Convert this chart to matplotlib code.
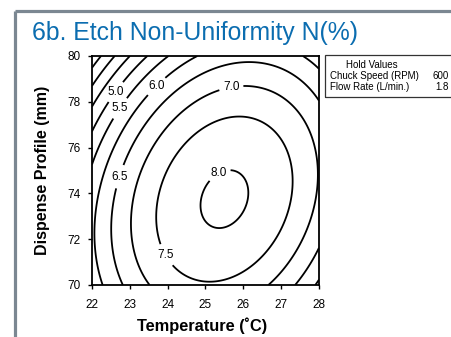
import numpy as np
import matplotlib
matplotlib.use("Agg")
import matplotlib.pyplot as plt
from matplotlib.patches import Rectangle

plt.rcParams['font.family'] = ['Liberation Sans', 'DejaVu Sans']

# fitted response surface for N(%) with chuck speed / flow rate held
temp_center = 25.5       # deg C
profile_center = 73.75   # mm
n_peak = 8.07
temp_curv = 0.184
profile_curv = 0.046
temp_profile_inter = 0.04

plain_levels = [3.5, 4.0, 4.5]
labeled_levels = [5.0, 5.5, 6.0, 6.5, 7.0, 7.5, 8.0]

temp_ticks = [22, 23, 24, 25, 26, 27, 28]
profile_ticks = [70, 72, 74, 76, 78, 80]

hold_names = ['Chuck Speed (RPM)', 'Flow Rate (L/min.)']
hold_values = ['600', '1.8']

# where the level labels sit (temperature, profile)
label_spots = [(22.65, 78.4), (22.8, 77.65), (23.75, 78.6), (22.6, 74.8),
               (25.7, 78.45), (24.0, 71.35), (25.4, 74.75)]

t = np.linspace(22, 28, 301)
p = np.linspace(70, 80, 301)
T, P = np.meshgrid(t, p)
dT = T - temp_center
dP = P - profile_center
N = n_peak - temp_curv * dT**2 - profile_curv * dP**2 + temp_profile_inter * dT * dP

fig = plt.figure(figsize=(4.52, 3.37), dpi=100)

# grey frame around the panel
fig.add_artist(plt.Line2D([15/452, 15/452], [0, 1 - 11/337], transform=fig.transFigure,
                          color='#7b8792', lw=2.3, solid_capstyle='butt'))
fig.add_artist(plt.Line2D([15/452, 1.0], [1 - 11/337, 1 - 11/337], transform=fig.transFigure,
                          color='#7b8792', lw=2.3, solid_capstyle='butt'))

fig.text(32/452, 1 - 40/337, '6b. Etch Non-Uniformity N(%)', color='#0b6db0',
         fontsize=17.8, va='baseline', ha='left')

ax = fig.add_axes([92/452, 1 - 285/337, 227/452, 229/337])
ax.contour(T, P, N, levels=plain_levels, colors='black', linewidths=1.3)
cs = ax.contour(T, P, N, levels=labeled_levels, colors='black', linewidths=1.3)
labels = ax.clabel(cs, manual=label_spots, fmt='%.1f',
                   fontsize=8.5, inline=True, inline_spacing=4)
for lab in labels:
    lab.set_rotation(0)

ax.set_xlim(22, 28)
ax.set_ylim(70, 80)
ax.set_xticks(temp_ticks)
ax.set_yticks(profile_ticks)
ax.tick_params(direction='out', length=3, width=1, labelsize=8.5)
ax.tick_params(axis='x', pad=7)
ax.tick_params(axis='y', pad=5)
for s in ax.spines.values():
    s.set_linewidth(1.3)

fig.text(43/452, 0.5 * ((1 - 56/337) + (1 - 285/337)), 'Dispense Profile (mm)',
         rotation=90, ha='center', va='center', fontsize=11.5, fontweight='bold')
fig.text(202/452, 1 - 326/337, 'Temperature (˚C)', ha='center', va='center',
         fontsize=11.8, fontweight='bold')

# hold values box
fig.add_artist(Rectangle((325/452, 1 - 97/337), 140/452, 42/337, transform=fig.transFigure,
                         fill=False, edgecolor='#333333', lw=0.9))
fig.text(372/452, 1 - 65/337, 'Hold Values', ha='center', va='center', fontsize=7)
for i in range(len(hold_names)):
    y = 1 - (76 + 10.5 * i) / 337
    fig.text(330/452, y, hold_names[i], ha='left', va='center', fontsize=7)
    fig.text(449/452, y, hold_values[i], ha='right', va='center', fontsize=7)

fig.savefig('out.png', dpi=100)
